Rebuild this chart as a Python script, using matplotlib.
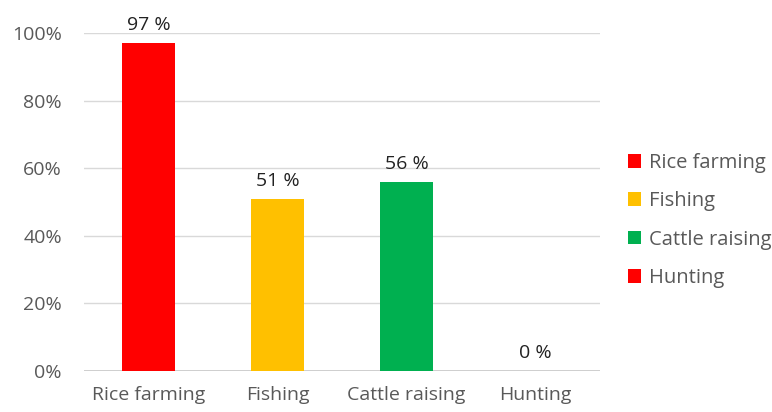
import matplotlib.pyplot as plt
from matplotlib.patches import Patch
from matplotlib.ticker import PercentFormatter

plt.rcParams['font.family'] = ['Open Sans', 'DejaVu Sans']

categories = ["Rice farming", "Fishing", "Cattle raising", "Hunting"]
values = [97, 51, 56, 0]
colors = ["#ff0000", "#ffc000", "#00b050", "#ff0000"]
yticks = [0, 20, 40, 60, 80, 100]

fig = plt.figure(figsize=(7.72, 4.12), dpi=100)
ax = fig.add_axes([0.109, 0.0995, 0.668, 0.8205])

x = range(len(categories))
bars = ax.bar(x, values, width=0.41, color=colors, zorder=3)

# value labels above each bar
for b, v in zip(bars, values):
    ax.text(b.get_x() + b.get_width() / 2, v + 2.6, f"{v} %",
            ha="center", va="bottom", fontsize=14, color="#222222")

ax.set_xlim(-0.5, 3.5)
ax.set_ylim(0, 100)
ax.set_yticks(yticks)
ax.yaxis.set_major_formatter(PercentFormatter(decimals=0))
ax.set_xticks(list(x))
ax.set_xticklabels(categories)
ax.tick_params(axis="both", length=0, labelsize=14, labelcolor="#595959")
ax.tick_params(axis="x", pad=11)
ax.tick_params(axis="y", pad=16)
ax.grid(axis="y", color="#d9d9d9", linewidth=1, zorder=0)
ax.axhline(0, color="#c8c8c8", linewidth=1.2, zorder=2)
for s in ax.spines.values():
    s.set_visible(False)

handles = [Patch(facecolor=c, label=l) for c, l in zip(colors, categories)]
fig.legend(handles=handles, loc="center left", bbox_to_anchor=(0.813, 0.465),
           frameon=False, fontsize=14.5, labelcolor="#595959",
           handlelength=0.65, handleheight=0.65, handletextpad=0.4,
           labelspacing=0.91, borderpad=0, borderaxespad=0)

fig.savefig("out.png", dpi=100)
